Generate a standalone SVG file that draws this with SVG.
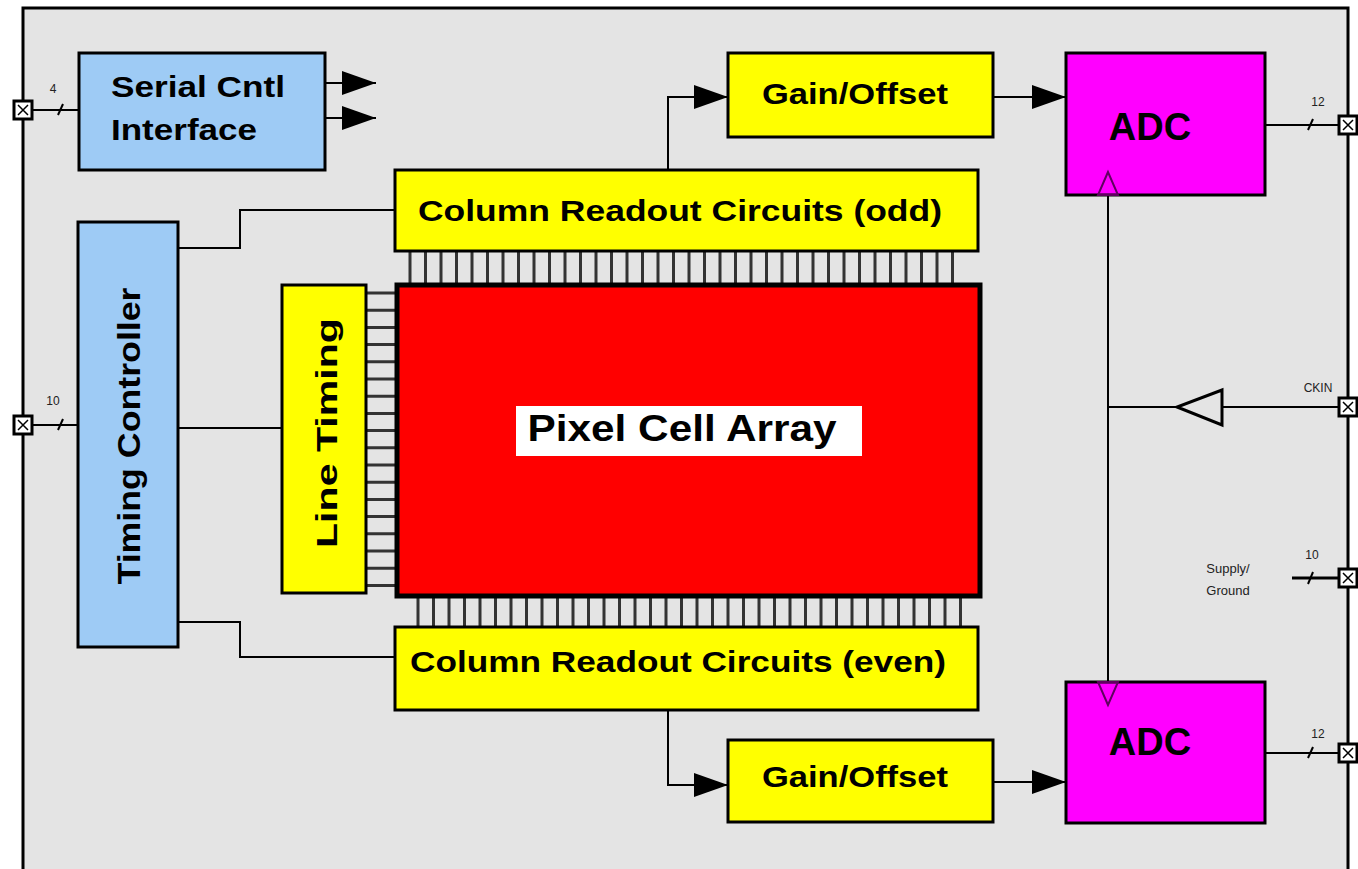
<svg xmlns="http://www.w3.org/2000/svg" width="1358" height="869" viewBox="0 0 1358 869">
<defs>
<style>
.box{stroke:#000;stroke-width:3}
.blue{fill:#9ecbf5}
.yel{fill:#ffff00}
.mag{fill:#ff00ff}
.t{font-family:"Liberation Sans",Arial,sans-serif;font-weight:bold;fill:#000}
.s{font-family:"Liberation Sans",Arial,sans-serif;fill:#222}
.w{stroke:#000;stroke-width:2;fill:none}
.comb{stroke:#333;stroke-width:3}
</style>
<marker id="fa" viewBox="0 0 34 24" refX="34" refY="12" markerWidth="34" markerHeight="24" markerUnits="userSpaceOnUse" orient="auto">
<path d="M0,0 L34,12 L0,24 Z" fill="#000"/>
</marker>
<g id="pin">
<rect x="-9" y="-9" width="18" height="18" fill="#fff" stroke="#000" stroke-width="3"/>
<path d="M-5,-5 L5,5 M5,-5 L-5,5" stroke="#000" stroke-width="1.5"/>
</g>
</defs>
<rect x="0" y="0" width="1358" height="869" fill="#fff"/>
<rect id="frame" x="23" y="8" width="1325" height="880" fill="#e4e4e4" stroke="#000" stroke-width="3"/>

<g id="connectors">
<line class="w" x1="23" y1="110" x2="79" y2="110"/>
<line class="w" x1="58" y1="115" x2="63" y2="104"/>
<line class="w" x1="23" y1="425" x2="78" y2="425"/>
<line class="w" x1="58" y1="430" x2="63" y2="419"/>
<line class="w" x1="325" y1="83" x2="376" y2="83" marker-end="url(#fa)"/>
<line class="w" x1="325" y1="118" x2="376" y2="118" marker-end="url(#fa)"/>
<polyline class="w" points="178,248 240,248 240,210 395,210"/>
<line class="w" x1="178" y1="428" x2="282" y2="428"/>
<polyline class="w" points="178,622 240,622 240,657 395,657"/>
<polyline class="w" points="668,170 668,97 728,97" marker-end="url(#fa)"/>
<line class="w" x1="993" y1="97" x2="1066" y2="97" marker-end="url(#fa)"/>
<polyline class="w" points="668,710 668,785 728,785" marker-end="url(#fa)"/>
<line class="w" x1="993" y1="782" x2="1066" y2="782" marker-end="url(#fa)"/>
<line class="w" x1="1108" y1="195" x2="1108" y2="682"/>
<line class="w" x1="1108" y1="407" x2="1177" y2="407"/>
<line class="w" x1="1222" y1="407" x2="1348" y2="407"/>
<path d="M1222,390 L1222,425 L1177,407 Z" fill="none" stroke="#000" stroke-width="3"/>
<line class="w" x1="1265" y1="125" x2="1348" y2="125"/>
<line class="w" x1="1308" y1="130" x2="1313" y2="119"/>
<line class="w" x1="1265" y1="753" x2="1348" y2="753"/>
<line class="w" x1="1308" y1="758" x2="1313" y2="747"/>
<line x1="1292" y1="578" x2="1348" y2="578" stroke="#000" stroke-width="3"/>
<line class="w" x1="1308" y1="584" x2="1313" y2="572"/>
</g>

<g id="pins">
<use href="#pin" x="23" y="110"/>
<use href="#pin" x="23" y="425"/>
<use href="#pin" x="1348" y="125"/>
<use href="#pin" x="1348" y="407"/>
<use href="#pin" x="1348" y="578"/>
<use href="#pin" x="1348" y="753"/>
</g>

<g id="labels">
<text class="s" x="53" y="93" font-size="12" text-anchor="middle">4</text>
<text class="s" x="53" y="405" font-size="12" text-anchor="middle">10</text>
<text class="s" x="1318" y="106" font-size="12" text-anchor="middle">12</text>
<text class="s" x="1318" y="738" font-size="12" text-anchor="middle">12</text>
<text class="s" x="1318" y="392" font-size="12" text-anchor="middle">CKIN</text>
<text class="s" x="1312" y="559" font-size="12" text-anchor="middle">10</text>
<text class="s" x="1228" y="573" font-size="13" text-anchor="middle">Supply/</text>
<text class="s" x="1228" y="595" font-size="13" text-anchor="middle">Ground</text>
</g>

<g id="combs" class="comb">
<path d="M410,251V285M425.5,251V285M441,251V285M456.5,251V285M472,251V285M487.5,251V285M503,251V285M518.5,251V285M534,251V285M549.5,251V285M565,251V285M580.5,251V285M596,251V285M611.5,251V285M627,251V285M642.5,251V285M658,251V285M673.5,251V285M689,251V285M704.5,251V285M720,251V285M735.5,251V285M751,251V285M766.5,251V285M782,251V285M797.5,251V285M813,251V285M828.5,251V285M844,251V285M859.5,251V285M875,251V285M890.5,251V285M906,251V285M921.5,251V285M937,251V285M952.5,251V285"/>
<path d="M418,596V627M433.5,596V627M449,596V627M464.5,596V627M480,596V627M495.5,596V627M511,596V627M526.5,596V627M542,596V627M557.5,596V627M573,596V627M588.5,596V627M604,596V627M619.5,596V627M635,596V627M650.5,596V627M666,596V627M681.5,596V627M697,596V627M712.5,596V627M728,596V627M743.5,596V627M759,596V627M774.5,596V627M790,596V627M805.5,596V627M821,596V627M836.5,596V627M852,596V627M867.5,596V627M883,596V627M898.5,596V627M914,596V627M929.5,596V627M945,596V627M960.5,596V627"/>
<path d="M366,293H397M366,310.2H397M366,327.4H397M366,344.6H397M366,361.8H397M366,379H397M366,396.2H397M366,413.4H397M366,430.6H397M366,447.8H397M366,465H397M366,482.2H397M366,499.4H397M366,516.6H397M366,533.8H397M366,551H397M366,568.2H397M366,585.4H397"/>
</g>

<g id="serial">
<rect class="box blue" x="79" y="53" width="246" height="117"/>
<text class="t" x="111" y="97" font-size="30" textLength="174" lengthAdjust="spacingAndGlyphs">Serial Cntl</text>
<text class="t" x="111" y="140" font-size="30" textLength="146" lengthAdjust="spacingAndGlyphs">Interface</text>
</g>

<g id="timing">
<rect class="box blue" x="78" y="222" width="100" height="425"/>
<text class="t" font-size="32" text-anchor="middle" textLength="297" lengthAdjust="spacingAndGlyphs" transform="translate(140,436) rotate(-90)">Timing Controller</text>
</g>

<g id="linetiming">
<rect class="box yel" x="282" y="285" width="84" height="308"/>
<text class="t" font-size="30" text-anchor="middle" textLength="230" lengthAdjust="spacingAndGlyphs" transform="translate(337,433) rotate(-90)">Line Timing</text>
</g>

<g id="pixel">
<rect x="397" y="285" width="583" height="311" fill="#ff0000" stroke="#000" stroke-width="5"/>
<rect x="516" y="406" width="346" height="50" fill="#fff"/>
<text class="t" x="682" y="441" font-size="37" text-anchor="middle" textLength="309" lengthAdjust="spacingAndGlyphs">Pixel Cell Array</text>
</g>

<g id="colodd">
<rect class="box yel" x="395" y="170" width="583" height="81"/>
<text class="t" x="680" y="221" font-size="29" text-anchor="middle" textLength="524" lengthAdjust="spacingAndGlyphs">Column Readout Circuits (odd)</text>
</g>

<g id="coleven">
<rect class="box yel" x="395" y="627" width="583" height="83"/>
<text class="t" x="678" y="672" font-size="29" text-anchor="middle" textLength="536" lengthAdjust="spacingAndGlyphs">Column Readout Circuits (even)</text>
</g>

<g id="gain1">
<rect class="box yel" x="728" y="53" width="265" height="84"/>
<text class="t" x="855" y="104" font-size="30" text-anchor="middle" textLength="186" lengthAdjust="spacingAndGlyphs">Gain/Offset</text>
</g>

<g id="gain2">
<rect class="box yel" x="728" y="740" width="265" height="82"/>
<text class="t" x="855" y="787" font-size="30" text-anchor="middle" textLength="186" lengthAdjust="spacingAndGlyphs">Gain/Offset</text>
</g>

<g id="adc1">
<rect class="box mag" x="1066" y="53" width="199" height="142"/>
<path d="M1108,172 L1098,195 L1118,195 Z" fill="none" stroke="#600060" stroke-width="2"/>
<text class="t" x="1150" y="140" font-size="38" text-anchor="middle">ADC</text>
</g>

<g id="adc2">
<rect class="box mag" x="1066" y="682" width="199" height="141"/>
<path d="M1108,705 L1098,682 L1118,682 Z" fill="none" stroke="#600060" stroke-width="2"/>
<text class="t" x="1150" y="755" font-size="38" text-anchor="middle">ADC</text>
</g>
</svg>
